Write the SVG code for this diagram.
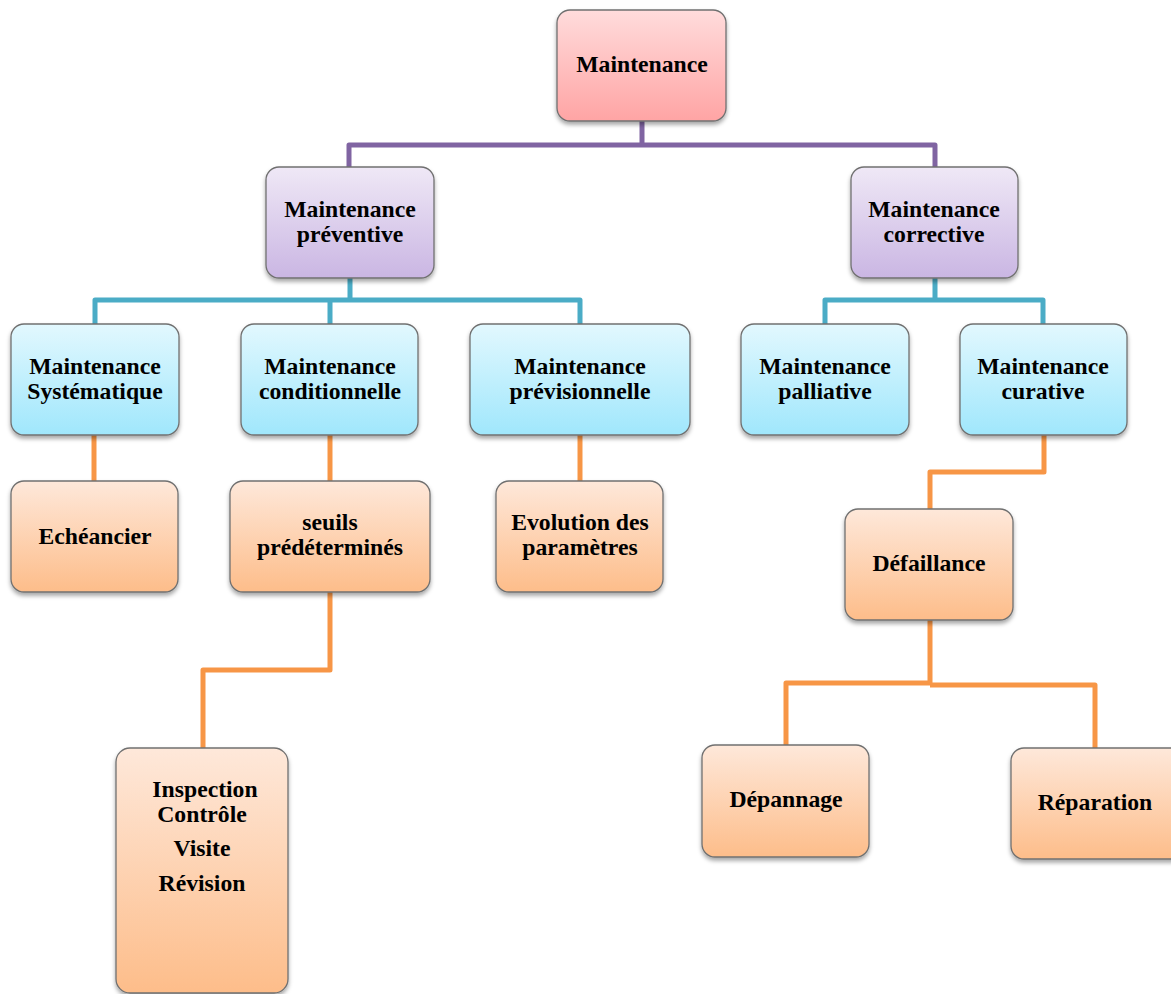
<svg xmlns="http://www.w3.org/2000/svg" width="1171" height="994" viewBox="0 0 1171 994">
<defs>
<linearGradient id="gPink" x1="0" y1="0" x2="0" y2="1"><stop offset="0" stop-color="#FFDCDC"/><stop offset="1" stop-color="#FFA4A4"/></linearGradient>
<linearGradient id="gPurple" x1="0" y1="0" x2="0" y2="1"><stop offset="0" stop-color="#EFE8F6"/><stop offset="1" stop-color="#CAB6E3"/></linearGradient>
<linearGradient id="gBlue" x1="0" y1="0" x2="0" y2="1"><stop offset="0" stop-color="#E2F8FE"/><stop offset="1" stop-color="#A0E7FC"/></linearGradient>
<linearGradient id="gOrange" x1="0" y1="0" x2="0" y2="1"><stop offset="0" stop-color="#FEE8DA"/><stop offset="1" stop-color="#FDBD8A"/></linearGradient>
<filter id="sh" x="-10%" y="-10%" width="120%" height="130%"><feDropShadow dx="0" dy="3" stdDeviation="2.2" flood-color="#000" flood-opacity="0.35"/></filter>
</defs>
<style>
.box{stroke:#707070;stroke-width:1.3;filter:url(#sh)}
.pink{fill:url(#gPink)}.purple{fill:url(#gPurple)}.blue{fill:url(#gBlue)}.orange{fill:url(#gOrange)}
text{font-family:"Liberation Serif","Times New Roman",serif;font-weight:bold;font-size:23.7px;fill:#000;text-anchor:middle}
.c{fill:none;stroke-width:5;stroke-linejoin:round}
.cp{stroke:#8064A2}.cb{stroke:#4BACC6}.co{stroke:#F79646}
</style>
<g id="connectors">
<path class="c cp" d="M642,121 V145 M349,167 V145 H935 V167"/>
<path class="c cb" d="M350,278 V300 M95,324 V300 H580 V324 M330,300 V324"/>
<path class="c cb" d="M935,278 V300 M825,324 V300 H1043 V324"/>
<path class="c co" d="M94,435 V481"/>
<path class="c co" d="M330,435 V481"/>
<path class="c co" d="M580,435 V481"/>
<path class="c co" d="M330,592 V670 H203 V748"/>
<path class="c co" d="M1044,435 V472 H930 V509"/>
<path class="c co" d="M930,620 V684 M786,745 V683 H930 M930,685 H1095 V748"/>
</g>
<g id="n-maintenance"><rect class="box pink" x="557" y="10" width="169" height="111" rx="13"/><text x="642" y="72">Maintenance</text></g>
<g id="n-preventive"><rect class="box purple" x="266" y="167" width="168" height="111" rx="13"/><text x="350" y="217">Maintenance</text><text x="350" y="242">préventive</text></g>
<g id="n-corrective"><rect class="box purple" x="851" y="167" width="167" height="111" rx="13"/><text x="934" y="217">Maintenance</text><text x="934" y="242">corrective</text></g>
<g id="n-systematique"><rect class="box blue" x="11" y="324" width="168" height="111" rx="13"/><text x="95" y="374">Maintenance</text><text x="95" y="399">Systématique</text></g>
<g id="n-conditionnelle"><rect class="box blue" x="241" y="324" width="177" height="111" rx="13"/><text x="330" y="374">Maintenance</text><text x="330" y="399">conditionnelle</text></g>
<g id="n-previsionnelle"><rect class="box blue" x="470" y="324" width="220" height="111" rx="13"/><text x="580" y="374">Maintenance</text><text x="580" y="399">prévisionnelle</text></g>
<g id="n-palliative"><rect class="box blue" x="741" y="324" width="168" height="111" rx="13"/><text x="825" y="374">Maintenance</text><text x="825" y="399">palliative</text></g>
<g id="n-curative"><rect class="box blue" x="960" y="324" width="167" height="111" rx="13"/><text x="1043" y="374">Maintenance</text><text x="1043" y="399">curative</text></g>
<g id="n-echeancier"><rect class="box orange" x="11" y="481" width="167" height="111" rx="13"/><text x="95" y="544">Echéancier</text></g>
<g id="n-seuils"><rect class="box orange" x="230" y="481" width="200" height="111" rx="13"/><text x="330" y="530">seuils</text><text x="330" y="555">prédéterminés</text></g>
<g id="n-evolution"><rect class="box orange" x="496" y="481" width="167" height="111" rx="13"/><text x="580" y="530">Evolution des</text><text x="580" y="555">paramètres</text></g>
<g id="n-defaillance"><rect class="box orange" x="845" y="509" width="168" height="111" rx="13"/><text x="929" y="571">Défaillance</text></g>
<g id="n-inspection"><rect class="box orange" x="116" y="748" width="172" height="245" rx="14"/><text x="205" y="797">Inspection</text><text x="202" y="822">Contrôle</text><text x="202" y="856">Visite</text><text x="202" y="891">Révision</text></g>
<g id="n-depannage"><rect class="box orange" x="702" y="745" width="167" height="112" rx="13"/><text x="786" y="807">Dépannage</text></g>
<g id="n-reparation"><rect class="box orange" x="1011" y="748" width="175" height="111" rx="13"/><text x="1095" y="810">Réparation</text></g>
</svg>
